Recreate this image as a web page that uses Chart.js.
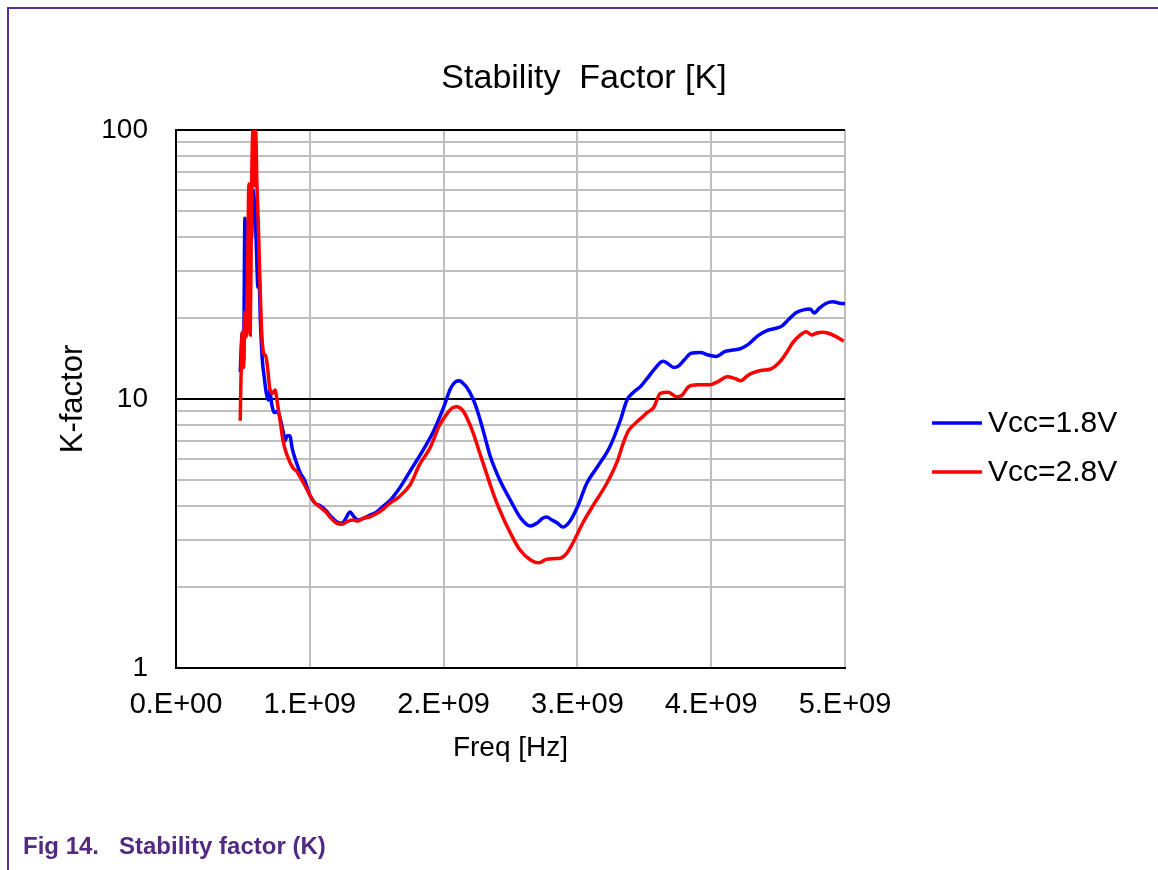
<!DOCTYPE html>
<html>
<head>
<meta charset="utf-8">
<title>Stability Factor [K]</title>
<script src="https://cdn.jsdelivr.net/npm/chart.js@4.4.0/dist/chart.umd.min.js"></script>
<style>
  html, body { margin: 0; padding: 0; background: #fff; }
  body { width: 1158px; height: 870px; position: relative; overflow: hidden; }
  #frame {
    position: absolute; left: 7px; top: 7px; right: -4px; bottom: -4px;
    border-top: 2px solid #55308a; border-left: 2px solid #55308a;
  }
  #chart { position: absolute; left: 0; top: 0; }
  #caption {
    position: absolute; left: 23px; top: 832px;
    font: bold 24px "Liberation Sans", Arial, sans-serif;
    color: #532a82; white-space: pre;
  }
</style>
</head>
<body>
<div id="frame"></div>
<canvas id="chart" width="1158" height="870" style="width:1158px;height:870px"></canvas>
<div id="caption">Fig 14.   Stability factor (K)</div>

<script>
// frequencies in GHz, K-factor
const freqBlue = [0.480, 0.495, 0.505, 0.515, 0.525, 0.535, 0.545, 0.555, 0.565, 0.575,
  0.585, 0.595, 0.605, 0.612, 0.620, 0.630, 0.645, 0.660, 0.675, 0.690,
  0.700, 0.715, 0.735, 0.760, 0.780, 0.800, 0.815, 0.830, 0.850, 0.870,
  0.900, 0.930, 0.960, 1.000, 1.040, 1.080, 1.120, 1.160, 1.200, 1.240,
  1.270, 1.300, 1.330, 1.360, 1.400, 1.450, 1.500, 1.550, 1.600, 1.670,
  1.720, 1.770, 1.850, 1.920, 2.000, 2.050, 2.090, 2.120, 2.140, 2.170,
  2.220, 2.260, 2.300, 2.350, 2.420, 2.500, 2.570, 2.620, 2.650, 2.700,
  2.740, 2.770, 2.810, 2.850, 2.890, 2.940, 3.000, 3.070, 3.150, 3.240,
  3.320, 3.370, 3.420, 3.470, 3.520, 3.570, 3.640, 3.680, 3.720, 3.750,
  3.800, 3.850, 3.920, 3.970, 4.040, 4.100, 4.160, 4.220, 4.280, 4.350,
  4.420, 4.480, 4.530, 4.580, 4.640, 4.700, 4.740, 4.770, 4.810, 4.860,
  4.910, 4.960, 5.000];
const kBlue = [12.6, 17.5, 14, 47, 30, 24, 35, 48, 40, 60,
  55, 45, 31, 26, 30, 20, 14, 12, 10.5, 9.9,
  10.8, 9.6, 8.9, 9.0, 8.4, 7.6, 7.0, 7.3, 7.3, 6.5,
  5.8, 5.3, 5.0, 4.4, 4.1, 4.0, 3.85, 3.65, 3.5, 3.45,
  3.6, 3.8, 3.65, 3.55, 3.6, 3.7, 3.8, 4.0, 4.2, 4.66,
  5.1, 5.6, 6.5, 7.5, 9.3, 10.9, 11.6, 11.7, 11.5, 11.1,
  10.0, 8.8, 7.5, 6.1, 5.0, 4.2, 3.64, 3.42, 3.37, 3.46,
  3.6, 3.64, 3.55, 3.46, 3.34, 3.49, 3.97, 4.86, 5.6, 6.6,
  8.3, 9.9, 10.6, 11.1, 11.9, 12.8, 13.8, 13.5, 13.1, 13.2,
  14.0, 14.8, 14.9, 14.6, 14.4, 15.0, 15.2, 15.4, 16.0, 17.2,
  18.0, 18.3, 18.7, 19.8, 21.0, 21.5, 21.6, 20.9, 21.8, 22.7,
  23.0, 22.7, 22.6];

const freqRed = [0.480, 0.487, 0.495, 0.505, 0.515, 0.525, 0.535, 0.545, 0.555, 0.565,
  0.575, 0.585, 0.595, 0.605, 0.615, 0.625, 0.640, 0.655, 0.670, 0.685,
  0.700, 0.720, 0.740, 0.760, 0.780, 0.800, 0.820, 0.840, 0.860, 0.880,
  0.900, 0.930, 0.960, 1.000, 1.040, 1.080, 1.120, 1.160, 1.200, 1.240,
  1.280, 1.320, 1.360, 1.400, 1.450, 1.500, 1.550, 1.600, 1.660, 1.750,
  1.820, 1.900, 1.970, 2.010, 2.070, 2.100, 2.140, 2.170, 2.220, 2.270,
  2.320, 2.370, 2.420, 2.500, 2.570, 2.650, 2.710, 2.770, 2.820, 2.870,
  2.920, 2.970, 3.040, 3.120, 3.220, 3.300, 3.340, 3.380, 3.430, 3.490,
  3.520, 3.570, 3.620, 3.680, 3.740, 3.780, 3.830, 3.900, 3.990, 4.050,
  4.120, 4.180, 4.220, 4.270, 4.310, 4.380, 4.440, 4.510, 4.560, 4.610,
  4.660, 4.710, 4.750, 4.790, 4.830, 4.870, 4.930, 4.990];
const kRed = [8.3, 13, 17.7, 13.1, 21, 17, 30, 63, 17.3, 60,
  100, 62, 100, 62, 45, 30, 18, 14.8, 14.5, 13,
  11, 10.5, 10.8, 9.5, 8.2, 7.0, 6.4, 6.0, 5.7, 5.5,
  5.4, 5.1, 4.8, 4.4, 4.1, 3.95, 3.8, 3.6, 3.45, 3.42,
  3.5, 3.55, 3.52, 3.6, 3.65, 3.75, 3.9, 4.1, 4.3, 4.8,
  5.7, 6.6, 8.0, 8.6, 9.3, 9.35, 9.1, 8.6, 7.5, 6.3,
  5.3, 4.47, 3.86, 3.17, 2.75, 2.52, 2.46, 2.54, 2.55, 2.56,
  2.67, 2.94, 3.46, 4.04, 4.86, 5.9, 6.8, 7.6, 8.1, 8.6,
  8.9, 9.3, 10.5, 10.6, 10.2, 10.3, 11.1, 11.3, 11.3, 11.6,
  12.1, 11.9, 11.7, 12.2, 12.5, 12.8, 12.9, 13.7, 14.8, 16.2,
  17.2, 17.8, 17.3, 17.6, 17.7, 17.6, 17.1, 16.4];

const seriesLabels = ['Vcc=1.8V', 'Vcc=2.8V'];
const seriesColors = ['#0000ff', '#ff0000'];

const xTickValues = [0, 1e9, 2e9, 3e9, 4e9, 5e9];
const xTickLabels = ['0.E+00', '1.E+09', '2.E+09', '3.E+09', '4.E+09', '5.E+09'];
const yTickLabels = [1, 10, 100];

const FONT = '"Liberation Sans", Arial, sans-serif';

// gridlines at 1..9, 10..90, 100
const yGridValues = [];
for (let d = 1; d < 100; d *= 10) {
  for (let m = 1; m < 10; m++) yGridValues.push(m * d);
}
yGridValues.push(100);

function toPoints(fs, ks) {
  return fs.map((f, i) => ({ x: f * 1e9, y: ks[i] }));
}

// chart title + legend drawn by hand so they sit where the original has them
const decorations = {
  id: 'decorations',
  afterDraw(chart) {
    const ctx = chart.ctx;
    ctx.save();
    ctx.fillStyle = '#000';
    ctx.font = '34px ' + FONT;
    ctx.textAlign = 'center';
    ctx.textBaseline = 'middle';
    ctx.fillText('Stability  Factor [K]', 584, 79);

    ctx.font = '30px ' + FONT;
    ctx.textAlign = 'left';
    const ys = [423, 472];
    chart.data.datasets.forEach((ds, i) => {
      ctx.strokeStyle = ds.borderColor;
      ctx.lineWidth = 3.5;
      ctx.beginPath();
      ctx.moveTo(932, ys[i]);
      ctx.lineTo(982, ys[i]);
      ctx.stroke();
      ctx.fillText(ds.label, 988, ys[i] + 1);
    });
    ctx.restore();
  }
};

const ctx = document.getElementById('chart').getContext('2d');
new Chart(ctx, {
  type: 'line',
  data: {
    datasets: [
      {
        label: seriesLabels[0],
        data: toPoints(freqBlue, kBlue),
        borderColor: seriesColors[0],
        borderWidth: 3.5,
        pointRadius: 0,
        cubicInterpolationMode: 'monotone',
        order: 2
      },
      {
        label: seriesLabels[1],
        data: toPoints(freqRed, kRed),
        borderColor: seriesColors[1],
        borderWidth: 3.5,
        pointRadius: 0,
        cubicInterpolationMode: 'monotone',
        order: 1
      }
    ]
  },
  options: {
    responsive: false,
    animation: false,
    events: [],
    layout: { padding: { left: 0, right: 313, top: 130, bottom: 0 } },
    plugins: {
      legend: { display: false },
      tooltip: { enabled: false },
      title: { display: false }
    },
    scales: {
      x: {
        type: 'linear',
        min: 0,
        max: 5e9,
        afterBuildTicks(s) { s.ticks = xTickValues.map(v => ({ value: v })); },
        afterFit(s) { s.height = 202; },
        ticks: {
          callback: (v) => xTickLabels[xTickValues.indexOf(v)],
          font: { family: FONT, size: 29 },
          color: '#000',
          padding: 20,
          maxRotation: 0,
          autoSkip: false
        },
        grid: {
          color: (c) => (c.tick && c.tick.value === 0 ? '#000' : '#bfbfbf'),
          lineWidth: 2,
          drawTicks: false
        },
        border: { color: '#000', width: 2 },
        title: {
          display: true,
          text: 'Freq [Hz]',
          font: { family: FONT, size: 28 },
          color: '#000',
          padding: { top: 0, bottom: 105 }
        }
      },
      y: {
        type: 'logarithmic',
        min: 1,
        max: 100,
        afterBuildTicks(s) { s.ticks = yGridValues.map(v => ({ value: v })); },
        afterFit(s) { s.width = 176; },
        ticks: {
          callback: (v) => (yTickLabels.includes(v) ? String(v) : ''),
          font: { family: FONT, size: 28 },
          color: '#000',
          padding: 28,
          autoSkip: false
        },
        grid: {
          color: (c) => (c.tick && [1, 10, 100].includes(c.tick.value) ? '#000' : '#bfbfbf'),
          lineWidth: 2,
          drawTicks: false
        },
        border: { color: '#000', width: 2 },
        title: {
          display: true,
          text: 'K-factor',
          font: { family: FONT, size: 31 },
          color: '#000',
          padding: { top: 55, bottom: 0 }
        }
      }
    }
  },
  plugins: [decorations]
});
</script>
</body>
</html>
